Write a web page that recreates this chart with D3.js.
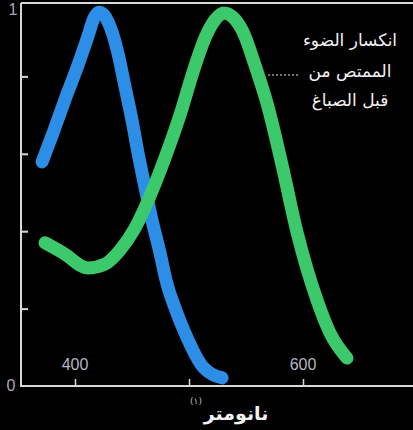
<!DOCTYPE html>
<html><head><meta charset="utf-8">
<script src="https://cdn.jsdelivr.net/npm/d3@7"></script>
<style>html,body{margin:0;padding:0;background:#000;}svg{display:block;}</style>
</head><body>
<script>
// Data (wavelength nm, relative absorbance)
const blueWavelength = [371.1, 381.6, 392.1, 402.6, 411.4, 416.7, 421.1, 425.4, 429.0, 437.7, 443.9, 450.0, 455.3, 461.4, 467.5, 474.6, 479.8, 487.7, 496.5, 512.3, 529.0];
const blueValue      = [0.579, 0.661, 0.747, 0.829, 0.904, 0.951, 0.966, 0.959, 0.941, 0.860, 0.773, 0.687, 0.602, 0.514, 0.429, 0.344, 0.274, 0.202, 0.137, 0.049, 0.021];
const greenWavelength = [373.7, 389.5, 411.4, 426.3, 439.5, 452.6, 465.8, 478.9, 492.1, 503.5, 514.0, 522.8, 530.7, 538.6, 547.4, 557.9, 568.4, 581.6, 594.7, 612.3, 623.7, 638.6];
const greenValue      = [0.370, 0.344, 0.305, 0.315, 0.351, 0.408, 0.491, 0.589, 0.700, 0.811, 0.899, 0.946, 0.964, 0.953, 0.915, 0.829, 0.731, 0.571, 0.398, 0.222, 0.137, 0.072];
const xTickValues = [400, 500, 600];
const xTickLabels = ["400", "", "600"];
const yTickValues = [0.2, 0.4, 0.6, 0.8];
const yEndLabels = ["0", "1"];
const legendLines = ["انكسار الضوء", "الممتص من", "قبل الصباغ"];
const xTitle = "نانومتر";
const xTitleNote = "(١)";

const W = 413, H = 430;
const svg = d3.select("body").append("svg").attr("width", W).attr("height", H)
  .style("background", "#000");

const x = d3.scaleLinear().domain([400, 600]).range([75, 303]);
const y = d3.scaleLinear().domain([0, 1]).range([386, -1]);

const axisColor = "#d8d8d8";
// top border
svg.append("line").attr("x1", 21).attr("x2", W).attr("y1", 3).attr("y2", 3)
  .attr("stroke", axisColor).attr("stroke-width", 2);

// y axis
const yAxis = svg.append("g").attr("transform", "translate(21,0)")
  .call(d3.axisRight(y).tickValues(yTickValues).tickSize(7).tickFormat(""));
yAxis.select(".domain").remove();
yAxis.selectAll(".tick line").attr("stroke", axisColor).attr("stroke-width", 2);
svg.append("line").attr("x1", 21).attr("x2", 21).attr("y1", 3).attr("y2", 387)
  .attr("stroke", axisColor).attr("stroke-width", 2);

// x axis
const xAxis = svg.append("g").attr("transform", "translate(0,386)")
  .call(d3.axisTop(x).tickValues(xTickValues).tickSize(7).tickFormat(""));
xAxis.select(".domain").remove();
xAxis.selectAll(".tick line").attr("stroke", axisColor).attr("stroke-width", 1.5);
svg.append("line").attr("x1", 20).attr("x2", W).attr("y1", 386).attr("y2", 386)
  .attr("stroke", axisColor).attr("stroke-width", 2);

// x tick labels inside plot
svg.selectAll("text.xl").data(xTickValues).enter().append("text")
  .attr("x", d => x(d)).attr("y", 370)
  .attr("text-anchor", "middle").attr("fill", "#b4b4c4")
  .attr("font-family", "Liberation Sans, Arial, sans-serif").attr("font-size", 16)
  .text((d, i) => xTickLabels[i]);

// y end labels
svg.append("text").attr("x", 11).attr("y", 391).attr("text-anchor", "middle")
  .attr("fill", "#a8a8b8").attr("font-family", "Liberation Sans, Arial, sans-serif")
  .attr("font-size", 16).text(yEndLabels[0]);
svg.append("text").attr("x", 13).attr("y", 15).attr("text-anchor", "middle")
  .attr("fill", "#a8a8b8").attr("font-family", "Liberation Sans, Arial, sans-serif")
  .attr("font-size", 16).text(yEndLabels[1]);

// curves
const line = d3.line().x(d => x(d[0])).y(d => y(d[1])).curve(d3.curveMonotoneX);
const greenData = greenWavelength.map((w, i) => [w, greenValue[i]]);
const blueData = blueWavelength.map((w, i) => [w, blueValue[i]]);

svg.append("path").datum(blueData).attr("d", line).attr("fill", "none")
  .attr("stroke", "#2c8ee6").attr("stroke-width", 13).attr("stroke-linecap", "round");
svg.append("path").datum(greenData).attr("d", line).attr("fill", "none")
  .attr("stroke", "#3cc96c").attr("stroke-width", 13).attr("stroke-linecap", "round");

// leader line
svg.append("line").attr("x1", 268).attr("x2", 300).attr("y1", 75).attr("y2", 75)
  .attr("stroke", "#999").attr("stroke-width", 1.5).attr("stroke-dasharray", "2,2");

// legend text
const ly = [46, 77, 106];
svg.selectAll("text.lg").data(legendLines).enter().append("text")
  .attr("x", 350).attr("y", (d, i) => ly[i]).attr("text-anchor", "middle")
  .attr("fill", "#f2f2f2").attr("font-family", "DejaVu Sans, Noto Sans, sans-serif")
  .attr("font-size", 17).attr("direction", "rtl").text(d => d);

// x title
svg.append("text").attr("x", 236).attr("y", 420).attr("text-anchor", "middle")
  .attr("fill", "#f2f2f2").attr("font-family", "DejaVu Sans, sans-serif")
  .attr("font-size", 19).attr("font-weight", "bold").text(xTitle);
svg.append("text").attr("x", 196).attr("y", 404).attr("text-anchor", "middle")
  .attr("fill", "#a8c8a8").attr("font-family", "DejaVu Sans, sans-serif")
  .attr("font-size", 9).text(xTitleNote);
</script>
</body></html>
